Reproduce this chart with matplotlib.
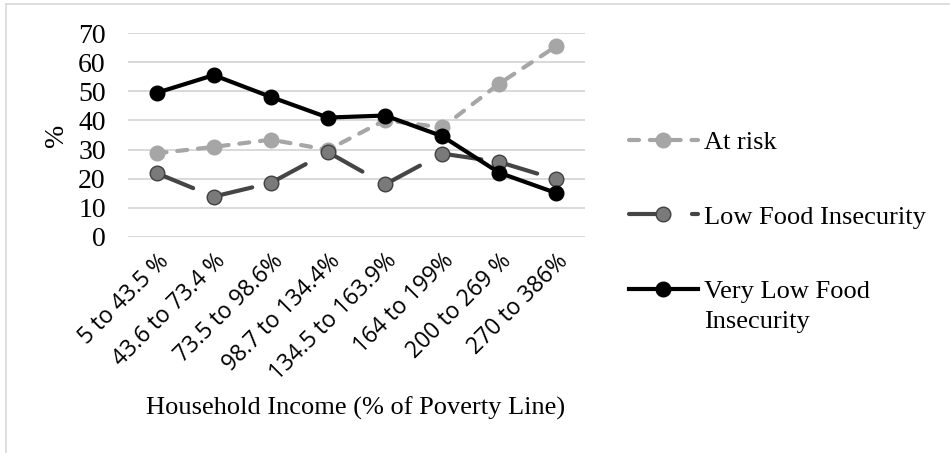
import matplotlib
matplotlib.use("Agg")
import matplotlib.pyplot as plt
from matplotlib.lines import Line2D

categories = ["5 to 43.5 %", "43.6 to 73.4 %", "73.5 to 98.6%", "98.7 to 134.4%",
              "134.5 to 163.9%", "164 to 199%", "200 to 269 %", "270 to 386%"]
at_risk = [28.7, 30.9, 33.4, 29.9, 40.1, 37.6, 52.7, 65.6]
low_fi = [21.9, 13.8, 18.5, 29.1, 18.0, 28.6, 25.7, 19.7]
very_low_fi = [49.5, 55.6, 48.1, 41.0, 41.7, 34.6, 22.0, 15.0]
yticks = [0, 10, 20, 30, 40, 50, 60, 70]

plt.rcParams["font.family"] = ["Liberation Serif", "DejaVu Serif"]

W, H = 950, 453
fig = plt.figure(figsize=(9.5, 4.53), dpi=100)
ax = fig.add_axes([128 / W, 1 - 236.7 / H, (585 - 128) / W, (236.7 - 33.3) / H])

x = list(range(len(categories)))
lw = 3.0
ms = 10.5
risk_dash = (2.4, 2.6)
low_dash = (9.5, 5.6)

# at risk: short dashes, light gray
ax.plot(x, at_risk, color="#a6a6a6", lw=lw, dashes=risk_dash, dash_capstyle="round",
        marker="o", ms=ms, mfc="#a6a6a6", mec="#a6a6a6", zorder=3, clip_on=False)

# low food insecurity: long dash, restarts at every point like excel does
for i in range(len(x) - 1):
    ax.plot(x[i:i + 2], low_fi[i:i + 2], color="#454545", lw=lw, dashes=low_dash,
            dash_capstyle="round", zorder=4, clip_on=False)
ax.plot(x, low_fi, ls="none", marker="o", ms=ms, mfc="#7a7a7a", mec="#404040",
        mew=1.0, zorder=4.5, clip_on=False)

ax.plot(x, very_low_fi, color="black", lw=lw, marker="o", ms=ms,
        solid_capstyle="round", zorder=5, clip_on=False)

ax.set_xlim(-0.5, len(x) - 0.5)
ax.set_ylim(0, 70)
ax.set_yticks(yticks)
ax.yaxis.grid(True, color="#d9d9d9", lw=1.4)
ax.set_axisbelow(True)
for s in ax.spines.values():
    s.set_visible(False)
ax.tick_params(length=0)
ax.tick_params(axis="y", labelsize=20, pad=16)

ax.set_xticks(x)
ax.set_xticklabels(categories, rotation=45, ha="right", rotation_mode="anchor",
                   family=["Open Sans", "DejaVu Sans"], fontsize=16.5)
ax.tick_params(axis="x", pad=9)

fig.text(57 / W, 1 - 135 / H, "%", fontsize=20, rotation=90, ha="center", va="center")
fig.text(356 / W, 1 - 408 / H, "Household Income (% of Poverty Line)",
         fontsize=19, ha="center", va="center")

handles = [
    Line2D([], [], color="#a6a6a6", lw=lw, dashes=risk_dash, dash_capstyle="round",
           marker="o", ms=ms, mfc="#a6a6a6", mec="#a6a6a6"),
    Line2D([], [], color="#454545", lw=lw, dashes=low_dash, dash_capstyle="round",
           marker="o", ms=ms, mfc="#7a7a7a", mec="#404040"),
    Line2D([], [], color="black", lw=lw, marker="o", ms=ms),
]
labels = ["At risk", "Low Food Insecurity", "Very Low Food"]
leg = fig.legend(handles, labels, loc="upper left", bbox_to_anchor=(629 / W, 1 - 131 / H),
                 frameon=False, fontsize=19, handlelength=2.6, handletextpad=0.25,
                 labelspacing=1.92, borderpad=0, borderaxespad=0)

# second line of the last label, set right under the first one
fig.canvas.draw()
bb = leg.get_texts()[2].get_window_extent()
fig.text(bb.x0 / W, (bb.y0 + bb.y1) / 2 / H - 30 / H, "Insecurity", fontsize=19,
         ha="left", va="center")

# outer chart frame (only left and top edges fall inside the picture)
fig.add_artist(Line2D([5.5 / W, 5.5 / W], [0, 1 - 4 / H], color="#d9d9d9", lw=1.2))
fig.add_artist(Line2D([5.5 / W, 1], [1 - 4 / H, 1 - 4 / H], color="#d9d9d9", lw=1.2))

fig.savefig("out.png", dpi=100)
